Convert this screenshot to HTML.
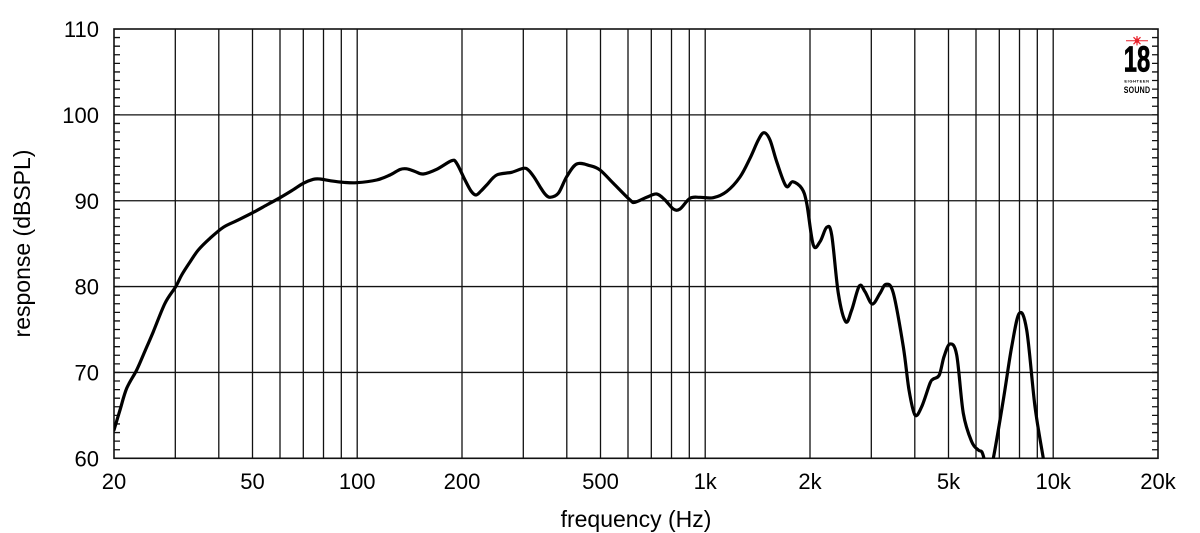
<!DOCTYPE html>
<html>
<head>
<meta charset="utf-8">
<style>
  html,body{margin:0;padding:0;background:#fff;}
  svg{display:block;}
  text{font-family:"Liberation Sans",Arial,sans-serif;fill:#000;}
</style>
</head>
<body>
<svg width="1200" height="533" viewBox="0 0 1200 533" xmlns="http://www.w3.org/2000/svg">
  <rect x="0" y="0" width="1200" height="533" fill="#fff"/>

  <!-- vertical grid lines -->
  <g stroke="#111" stroke-width="1.3" fill="none">
    <path d="M175.3 29V458.3 M218.8 29V458.3 M252.5 29V458.3 M280 29V458.3 M303.3 29V458.3 M323.5 29V458.3 M341.3 29V458.3 M357.2 29V458.3
             M462 29V458.3 M523.3 29V458.3 M566.8 29V458.3 M600.5 29V458.3 M628 29V458.3 M651.3 29V458.3 M671.5 29V458.3 M689.3 29V458.3 M705.2 29V458.3
             M810 29V458.3 M871.3 29V458.3 M914.8 29V458.3 M948.5 29V458.3 M976 29V458.3 M999.3 29V458.3 M1019.5 29V458.3 M1037.3 29V458.3 M1053.2 29V458.3"/>
    <path d="M114 114.86H1158 M114 200.72H1158 M114 286.58H1158 M114 372.44H1158"/>
  </g>

  <!-- minor ticks every 1 dB -->
  <line x1="117" y1="29" x2="117" y2="458.3" stroke="#111" stroke-width="6" stroke-dasharray="1.3 7.286" stroke-dashoffset="0.65"/>
  <line x1="1155" y1="29" x2="1155" y2="458.3" stroke="#111" stroke-width="6" stroke-dasharray="1.3 7.286" stroke-dashoffset="0.65"/>

  <!-- frame -->
  <rect x="114" y="29" width="1044" height="429.3" fill="none" stroke="#111" stroke-width="1.6"/>

  <defs>
    <clipPath id="pa"><rect x="114" y="29" width="1044" height="429.3"/></clipPath>
  </defs>
  <polyline id="curve" clip-path="url(#pa)" fill="none" stroke="#000" stroke-width="3.2" stroke-linejoin="round" stroke-linecap="round"
    points="114,430 120,410 126.7,388.3 136.7,370 145,351 153.3,331.7 165,303.3 175.7,286.7 181.7,275 190,262 198.3,250 210,238.3 223.3,227.3 236.7,220.7 252.7,212.7 266.7,205 280,197.7 292,190.5 303.3,183.3 313.3,179.3 320,179 330,180.7 343.3,182.3 356.7,182.7 376.7,180 390,175 400,169.5 406.7,168.8 415,171.5 423.3,174 436.7,169.3 451.7,160.7 456.7,163.3 465,180 471,191 476,195 481,191 486.7,185 496.7,175 511.7,172.3 523.3,168.3 528.3,170 534,177 540,186.7 545,194 550,197.3 558.3,193.3 566.7,176.7 576.7,164 590,165.7 600,170 613.3,183.3 630,200 635,202.3 646.7,197.3 656.7,194 665,200 673.3,209 680,209 690,198.3 700,197.3 713.3,197.7 726.7,191.5 740,177 750,158.3 758.3,140 764,132.7 770,140 776.7,161.7 786,186 792.7,181.7 801.7,188.3 806.7,203.3 813.3,245 820,241.7 826.7,227.3 831.7,235 838.3,293.3 845.7,321.7 851.7,310 859.3,286 865,291.7 872.3,304 880,293.3 886,284.3 893.3,293 903.3,346.7 909,390 915,415 921.7,406.7 930,383.3 933.3,379 939.3,375 944,356.7 950,344 956.7,355 963.3,413.3 971.7,441.7 978.3,450 981.7,451.7 984,458.3 988,475 993.3,458.3 1003.3,400 1011.7,346.7 1019.3,313.3 1026.7,330 1035,406.7 1043.3,458.3 1046,475"/>

  <!-- Y tick labels -->
  <g font-size="22" text-anchor="end">
    <text x="99" y="37">110</text>
    <text x="99" y="123">100</text>
    <text x="99" y="209">90</text>
    <text x="99" y="294.6">80</text>
    <text x="99" y="380.4">70</text>
    <text x="99" y="466.3">60</text>
  </g>

  <!-- X tick labels -->
  <g font-size="22" text-anchor="middle">
    <text x="114" y="489">20</text>
    <text x="252.5" y="489">50</text>
    <text x="357.2" y="489">100</text>
    <text x="462" y="489">200</text>
    <text x="600.5" y="489">500</text>
    <text x="705.2" y="489">1k</text>
    <text x="810" y="489">2k</text>
    <text x="948.5" y="489">5k</text>
    <text x="1053.2" y="489">10k</text>
    <text x="1158" y="489">20k</text>
  </g>

  <!-- axis titles -->
  <text x="636" y="527" font-size="23" text-anchor="middle">frequency (Hz)</text>
  <text transform="translate(30,243.5) rotate(-90)" font-size="23" text-anchor="middle">response (dBSPL)</text>

  <!-- logo -->
  <g>
    <line x1="1126" y1="40.7" x2="1148" y2="40.7" stroke="#e8202a" stroke-width="1"/>
    <g stroke="#e8202a" stroke-width="1.2">
      <line x1="1137" y1="36" x2="1137" y2="45.4"/>
      <line x1="1133.5" y1="37.2" x2="1140.5" y2="44.2"/>
      <line x1="1140.5" y1="37.2" x2="1133.5" y2="44.2"/>
    </g>
    <circle cx="1137" cy="40.7" r="2.2" fill="#e8202a"/>
    <text transform="translate(1137,71.5) scale(0.66,1)" font-size="36" font-weight="bold" text-anchor="middle" stroke="#000" stroke-width="0.8">18</text>
    <text x="1137" y="82.5" font-size="4" font-weight="bold" text-anchor="middle" letter-spacing="0.6">EIGHTEEN</text>
    <text transform="translate(1137,93) scale(0.78,1)" font-size="9" font-weight="bold" text-anchor="middle" letter-spacing="0.3">SOUND</text>
  </g>
</svg>
<script>
(function(){
  try{
    var pl=document.getElementById('curve');
    var raw=pl.getAttribute('points').trim().split(/\s+/).map(function(s){var a=s.split(',');return [parseFloat(a[0]),parseFloat(a[1])];});
    var d='M'+raw[0][0]+' '+raw[0][1];
    for(var i=0;i<raw.length-1;i++){
      var p0=raw[i>0?i-1:i],p1=raw[i],p2=raw[i+1],p3=raw[i+2<raw.length?i+2:i+1];
      var t=1/6;
      var c1x=p1[0]+(p2[0]-p0[0])*t,c1y=p1[1]+(p2[1]-p0[1])*t;
      var c2x=p2[0]-(p3[0]-p1[0])*t,c2y=p2[1]-(p3[1]-p1[1])*t;
      d+=' C'+c1x.toFixed(2)+' '+c1y.toFixed(2)+' '+c2x.toFixed(2)+' '+c2y.toFixed(2)+' '+p2[0]+' '+p2[1];
    }
    var ns='http://www.w3.org/2000/svg';
    var path=document.createElementNS(ns,'path');
    path.setAttribute('d',d);
    ['clip-path','fill','stroke','stroke-width','stroke-linejoin','stroke-linecap'].forEach(function(a){path.setAttribute(a,pl.getAttribute(a));});
    pl.parentNode.replaceChild(path,pl);
  }catch(e){}
})();
</script>
</body>
</html>
